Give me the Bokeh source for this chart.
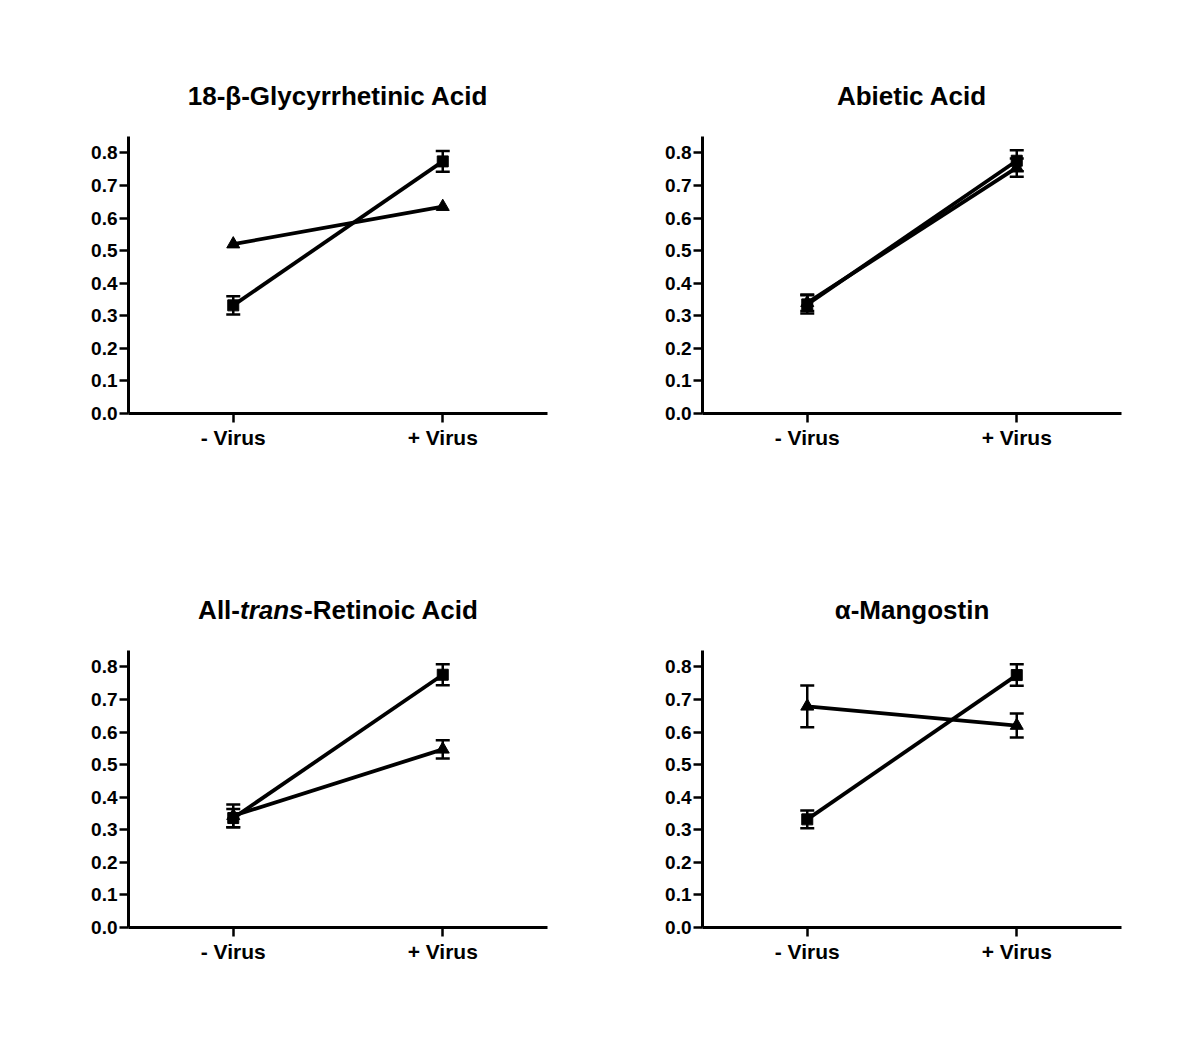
from bokeh.plotting import figure
from bokeh.layouts import gridplot
from bokeh.models import Range1d, FixedTicker, Label, Whisker, TeeHead, ColumnDataSource, NumeralTickFormatter
from bokeh.embed import file_html
from bokeh.resources import INLINE

# ---- data ----
groups = ["- Virus", "+ Virus"]
group_x = [1, 2]
y_ticks = [0.0, 0.1, 0.2, 0.3, 0.4, 0.5, 0.6, 0.7, 0.8]

titles = ["18-β-Glycyrrhetinic Acid", "Abietic Acid", "All-trans-Retinoic Acid", "α-Mangostin"]

# squares: virus control (no compound)
square_mean = [[0.332, 0.774], [0.335, 0.776], [0.336, 0.776], [0.332, 0.775]]
square_err = [[0.028, 0.032], [0.028, 0.032], [0.028, 0.032], [0.027, 0.033]]

# triangles: compound-treated
tri_mean = [[0.520, 0.635], [0.340, 0.755], [0.343, 0.547], [0.679, 0.620]]
tri_err = [[None, None], [0.025, 0.028], [0.035, 0.028], [0.064, 0.037]]

FONT = "Liberation Sans"
Y_AXIS_TOP = 0.85
Y_VIEW_TOP = 1.05
PX_PER_UNIT = 277 / 0.85
FRAME_H = 342
FRAME_W = 419


def make_panel(i, left, right, top, bottom):
    p = figure(width=left + FRAME_W + right, height=top + FRAME_H + bottom,
               x_range=Range1d(0.5, 2.5), y_range=Range1d(0, Y_VIEW_TOP),
               output_backend="svg", toolbar_location=None,
               min_border_left=left, min_border_right=right,
               min_border_top=top, min_border_bottom=bottom)
    p.outline_line_color = None
    p.grid.visible = False
    p.background_fill_color = "white"
    p.border_fill_color = "white"

    for ax in (p.xaxis[0], p.yaxis[0]):
        ax.axis_line_width = 3
        ax.axis_line_color = "black"
        ax.major_tick_line_width = 2.5
        ax.major_tick_line_color = "black"
        ax.major_tick_in = 0
        ax.major_tick_out = 9
        ax.minor_tick_line_color = None
        ax.major_label_text_font = FONT
        ax.major_label_text_font_style = "bold"
        ax.major_label_text_color = "black"

    p.yaxis.bounds = (0, Y_AXIS_TOP)
    p.yaxis.ticker = FixedTicker(ticks=y_ticks)
    p.yaxis.formatter = NumeralTickFormatter(format="0.0")
    p.yaxis.major_label_text_font_size = "19px"
    p.yaxis.major_label_standoff = 2

    p.xaxis.ticker = FixedTicker(ticks=group_x)
    p.xaxis.major_label_overrides = {group_x[k]: groups[k] for k in range(len(groups))}
    p.xaxis.major_label_text_font_size = "21px"
    p.xaxis.major_label_standoff = 3

    # series
    for mean, err, marker, size in ((square_mean[i], square_err[i], "square", 11),
                                    (tri_mean[i], tri_err[i], "triangle", 13)):
        p.line(group_x, mean, line_width=3.8, line_color="black")
        bx, up, lo = [], [], []
        for k in range(len(group_x)):
            if err[k] is not None:
                bx.append(group_x[k]); up.append(mean[k] + err[k]); lo.append(mean[k] - err[k])
        if bx:
            src = ColumnDataSource(dict(base=bx, upper=up, lower=lo))
            w = Whisker(base="base", upper="upper", lower="lower", source=src,
                        line_width=2.5, line_color="black",
                        upper_head=TeeHead(size=14, line_width=2.5, line_color="black"),
                        lower_head=TeeHead(size=14, line_width=2.5, line_color="black"))
            p.add_layout(w)
        p.scatter(group_x, mean, marker=marker, size=size, fill_color="black", line_color="black")

    # title as labels, inside the (extended) frame above the axis bounds
    ty = Y_AXIS_TOP + 41 / PX_PER_UNIT
    common = dict(y=ty, x=1.5, text_font=FONT, text_font_size="26px", text_font_style="bold",
                  text_baseline="middle", text_color="black")
    t = titles[i]
    if "trans" in t:
        p.add_layout(Label(text="All-", text_align="right", x_offset=-98, **common))
        common2 = dict(common); common2["text_font_style"] = "bold italic"
        p.add_layout(Label(text="trans", text_align="left", x_offset=-98, **common2))
        p.add_layout(Label(text="-Retinoic Acid", text_align="left", x_offset=-34, **common))
    else:
        p.add_layout(Label(text=t, text_align="center", **common))
    return p


p1 = make_panel(0, 128, 37, 71, 108)
p2 = make_panel(1, 118, 39, 71, 108)
p3 = make_panel(2, 128, 37, 64, 80)
p4 = make_panel(3, 118, 39, 64, 80)

grid = gridplot([[p1, p2], [p3, p4]], toolbar_location=None)

open("out.html", "w").write(file_html(grid, INLINE))
